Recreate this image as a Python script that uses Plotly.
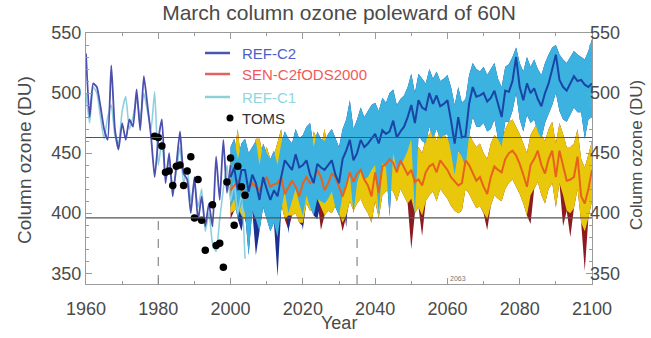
import plotly.graph_objects as go

# ---------------- data ----------------
years_hist = list(range(1960, 2001))
refc2_hist = [533, 480, 508, 505, 489, 470, 461, 523, 470, 453,
              475, 461, 478, 472, 503, 469, 514, 490, 464, 430,
              461, 478, 425, 450, 414, 440, 468, 433, 428, 400,
              430, 394, 414, 389, 408, 389, 447, 411, 461, 417,
              440]

years_c1 = list(range(1960, 2005))
refc1 = [500, 475, 505, 500, 480, 462, 480, 490, 465, 458,
         485, 497, 470, 480, 495, 478, 500, 485, 470, 501,
         440, 460, 430, 445, 420, 435, 455, 425, 438, 410,
         425, 405, 420, 385, 400, 375, 368, 395, 420, 440,
         410, 425, 400, 415, 362]

toms_years = [1979, 1980, 1981, 1982, 1983, 1984, 1985, 1986, 1987, 1988,
              1989, 1990, 1991, 1992, 1993, 1995, 1996, 1997, 1998, 1999,
              2000, 2001, 2002, 2003, 2004]
toms = [464, 463, 456, 434, 435, 423, 439, 440, 423, 435,
        447, 396, 428, 394, 369, 407, 373, 375, 355, 426,
        446, 390, 439, 422, 415]

years_fut = list(range(2000, 2101))
refc2_mean = [430, 438, 419, 436, 436, 418, 432, 425, 411, 430,
              420, 411, 419, 414, 430, 444, 440, 436, 449, 438,
              440, 444, 432, 425, 441, 438, 436, 440, 444, 432,
              425, 445, 452, 461, 444, 450, 461, 455, 458, 462,
              466, 458, 469, 466, 468, 477, 463, 468, 472, 480,
              490, 475, 494, 488, 486, 500, 491, 498, 489, 491,
              494, 477, 458, 480, 463, 464, 491, 505, 497, 498,
              500, 493, 496, 502, 490, 480, 502, 501, 510, 530,
              505, 494, 508, 500, 504, 495, 489, 500, 508, 520,
              532, 511, 505, 502, 508, 514, 510, 511, 507, 505,
              508]
refc2_hi = [455, 462, 445, 458, 462, 450, 455, 460, 440, 458,
            450, 445, 452, 440, 458, 468, 462, 458, 470, 462,
            465, 472, 475, 455, 468, 462, 460, 466, 470, 462,
            455, 470, 478, 494, 470, 478, 488, 480, 485, 490,
            492, 485, 496, 492, 500, 503, 490, 495, 498, 505,
            516, 500, 516, 512, 508, 520, 512, 518, 510, 512,
            515, 505, 490, 505, 492, 495, 515, 525, 520, 518,
            522, 515, 520, 525, 512, 505, 522, 524, 530, 538,
            525, 518, 530, 522, 528, 520, 515, 525, 532, 538,
            540, 532, 528, 525, 530, 535, 532, 530, 528, 535,
            545]
refc2_lo = [405, 412, 395, 408, 400, 365, 402, 395, 385, 405,
            395, 385, 392, 380, 402, 418, 400, 410, 420, 408,
            398, 415, 405, 398, 412, 410, 408, 412, 418, 405,
            398, 415, 425, 432, 400, 425, 435, 428, 430, 436,
            440, 398, 442, 438, 397, 450, 436, 440, 445, 452,
            462, 398, 465, 460, 458, 472, 462, 470, 462, 465,
            466, 450, 432, 452, 447, 438, 465, 480, 472, 472,
            475, 468, 470, 478, 462, 455, 476, 476, 485, 500,
            478, 468, 482, 475, 478, 468, 462, 475, 482, 490,
            500, 485, 478, 476, 482, 488, 484, 484, 462, 478,
            480]
sen_mean = [419, 423, 427, 420, 414, 420, 425, 422, 419, 426,
            430, 422, 424, 425, 430, 416, 422, 427, 422, 414,
            425, 430, 425, 428, 436, 430, 419, 425, 433, 430,
            422, 414, 423, 434, 426, 433, 436, 428, 423, 414,
            434, 417, 439, 441, 445, 442, 434, 444, 438, 432,
            436, 426, 428, 423, 434, 439, 441, 434, 444, 440,
            436, 430, 426, 423, 425, 444, 440, 434, 427, 430,
            422, 416, 430, 439, 436, 434, 445, 450, 452, 448,
            441, 432, 422, 440, 445, 452, 440, 433, 445, 452,
            430, 452, 440, 427, 428, 430, 447, 414, 408, 420,
            436]
sen_hi = [445, 450, 470, 440, 438, 448, 445, 462, 462, 448,
          455, 445, 448, 460, 470, 440, 450, 452, 445, 440,
          452, 458, 450, 468, 462, 455, 470, 452, 460, 456,
          448, 440, 450, 460, 452, 458, 462, 455, 450, 440,
          460, 445, 465, 468, 470, 468, 460, 470, 465, 458,
          462, 452, 455, 450, 462, 466, 470, 460, 472, 466,
          462, 456, 455, 450, 452, 475, 466, 460, 455, 458,
          450, 445, 458, 465, 462, 460, 470, 476, 478, 472,
          466, 458, 450, 465, 470, 476, 465, 460, 470, 476,
          458, 475, 466, 455, 455, 458, 470, 445, 438, 448,
          460]
sen_lo = [400, 402, 405, 398, 395, 398, 402, 400, 398, 405,
          408, 400, 402, 400, 408, 395, 398, 398, 400, 392,
          392, 408, 402, 405, 412, 405, 398, 402, 400, 406,
          400, 392, 398, 410, 402, 408, 412, 405, 400, 392,
          410, 396, 415, 418, 420, 418, 410, 420, 414, 408,
          412, 400, 405, 398, 410, 415, 418, 410, 420, 416,
          412, 406, 402, 400, 402, 420, 416, 410, 404, 406,
          400, 395, 406, 415, 412, 410, 420, 425, 428, 422,
          416, 408, 398, 415, 420, 426, 415, 408, 420, 425,
          405, 425, 415, 402, 400, 404, 420, 392, 385, 396,
          410]

# ensemble extremes (deep downward spikes)
blue_spike_years = [2003, 2007, 2013, 2016, 2020, 2024, 2032]
blue_spike_vals = [385, 365, 347, 383, 386, 395, 388]
red_spike_years = [2000, 2005, 2016, 2020, 2025, 2031, 2050, 2053, 2071, 2083, 2092, 2094, 2098]
red_spike_vals = [395, 386, 386, 389, 386, 385, 370, 381, 386, 391, 389, 380, 352]

ref_levels = [463, 396]
dash_years = [1980, 2035]
x_range = [1960, 2100]
y_range = [341, 550]
x_ticks = list(range(1960, 2101, 20))
y_ticks = [350, 400, 450, 500, 550]
mark_year = 2063


def with_spikes(base, yrs, vals):
    out = list(base)
    for yy, v in zip(yrs, vals):
        i = years_fut.index(yy)
        out[i] = min(out[i], v)
    return out


refc2_outer_lo = with_spikes(refc2_lo, blue_spike_years, blue_spike_vals)
sen_outer_lo = with_spikes(sen_lo, red_spike_years, red_spike_vals)

FONT = "Liberation Sans, Arial, sans-serif"
TXT = "#4a4a4a"
FIG_W, FIG_H = 651, 338

fig = go.Figure()


def band(lo, hi, color):
    fig.add_trace(go.Scatter(x=years_fut, y=lo, mode="lines", line=dict(width=0, color=color),
                             showlegend=False, hoverinfo="skip"))
    fig.add_trace(go.Scatter(x=years_fut, y=hi, mode="lines", line=dict(width=0, color=color),
                             fill="tonexty", fillcolor=color, showlegend=False, hoverinfo="skip"))


band(sen_outer_lo, sen_hi, "#8c1a1e")
band(refc2_outer_lo, refc2_hi, "#1c2f92")
band(sen_lo, sen_hi, "#e9c80c")
band(refc2_lo, refc2_hi, "#3bb2e0")

fig.add_trace(go.Scatter(x=years_c1, y=refc1, mode="lines", name="REF-C1",
                         line=dict(color="#8fd0de", width=1.6, shape="spline", smoothing=0.5),
                         showlegend=False))
fig.add_trace(go.Scatter(x=years_hist, y=refc2_hist, mode="lines", name="REF-C2",
                         line=dict(color="#4b4fae", width=1.8, shape="spline", smoothing=0.5),
                         showlegend=False))
fig.add_trace(go.Scatter(x=years_fut, y=sen_mean, mode="lines", name="SEN-C2fODS2000",
                         line=dict(color="#e8621c", width=2), showlegend=False))
fig.add_trace(go.Scatter(x=years_fut, y=refc2_mean, mode="lines", name="REF-C2 mean",
                         line=dict(color="#1a44a6", width=2), showlegend=False))
fig.add_trace(go.Scatter(x=toms_years, y=toms, mode="markers", name="TOMS",
                         marker=dict(color="black", size=7.5), showlegend=False))
# dummy trace so the right-hand axis is drawn
fig.add_trace(go.Scatter(x=[None], y=[None], yaxis="y2", showlegend=False, hoverinfo="skip"))

shapes = []
for lev in ref_levels:
    shapes.append(dict(type="line", xref="x", yref="y", x0=x_range[0], x1=x_range[1], y0=lev, y1=lev,
                       line=dict(color="#555555", width=1.2), layer="above"))
for yr in dash_years:
    shapes.append(dict(type="line", xref="x", yref="y", x0=yr, x1=yr, y0=y_range[0], y1=ref_levels[1],
                       line=dict(color="#888888", width=1.2, dash="dash"), layer="above"))

# helpers: window pixel -> paper coordinates (plot area spans x 86..592, y 33..284)
W, H, L, B = 506.0, 251.0, 86.0, 284.0


def px(xp):
    return (xp - L) / W


def py(yp):
    return (B - yp) / H


legend_items = [("REF-C2", "#4a55b0", "#4a5fc8", 53),
                ("SEN-C2fODS2000", "#e06262", "#f05a5a", 74),
                ("REF-C1", "#8fcfd8", "#8ed6e0", 97)]
annotations = []
for name, lc, tc, yrow in legend_items:
    shapes.append(dict(type="line", xref="paper", yref="paper", x0=px(205), x1=px(230),
                       y0=py(yrow), y1=py(yrow), line=dict(color=lc, width=2.5)))
    annotations.append(dict(text=name, xref="paper", yref="paper", x=px(240), y=py(yrow),
                            xanchor="left", yanchor="middle", showarrow=False,
                            font=dict(family=FONT, size=15, color=tc)))
shapes.append(dict(type="circle", xref="paper", yref="paper", x0=px(226.5), x1=px(233.5),
                   y0=py(121.5), y1=py(114.5), fillcolor="black", line=dict(width=0)))
annotations.append(dict(text="TOMS", xref="paper", yref="paper", x=px(240), y=py(118),
                        xanchor="left", yanchor="middle", showarrow=False,
                        font=dict(family=FONT, size=15, color="#333333")))
annotations.append(dict(text=str(mark_year), xref="x", yref="y", x=mark_year, y=y_range[0],
                        xanchor="center", yanchor="bottom", showarrow=False,
                        font=dict(family=FONT, size=7, color="#777777")))
# axis titles placed explicitly
annotations.append(dict(text="Year", xref="paper", yref="paper", x=0.5, y=py(323),
                        xanchor="center", yanchor="middle", showarrow=False,
                        font=dict(family=FONT, size=18, color=TXT)))
annotations.append(dict(text="Column ozone (DU)", xref="paper", yref="paper", x=px(24), y=py(160),
                        xanchor="center", yanchor="middle", textangle=-90, showarrow=False,
                        font=dict(family=FONT, size=19, color=TXT)))
annotations.append(dict(text="Column ozone (DU)", xref="paper", yref="paper", x=px(636), y=py(155),
                        xanchor="center", yanchor="middle", textangle=-90, showarrow=False,
                        font=dict(family=FONT, size=17, color=TXT)))

axis_common = dict(showgrid=False, zeroline=False, showline=True, linecolor="#9a9a9a",
                   linewidth=1, ticks="inside", tickcolor="#9a9a9a", ticklen=6,
                   tickfont=dict(family=FONT, size=18, color=TXT))

fig.update_layout(
    width=FIG_W, height=FIG_H,
    margin=dict(l=86, r=FIG_W - 86 - 506, t=33, b=FIG_H - 33 - 251, autoexpand=False),
    paper_bgcolor="white", plot_bgcolor="white",
    title=dict(text="March column ozone poleward of 60N", x=339 / FIG_W, xanchor="center",
               y=1 - 13 / FIG_H, yanchor="middle", yref="container",
               font=dict(family=FONT, size=21, color=TXT)),
    xaxis=dict(range=x_range, tickvals=x_ticks, mirror="ticks",
               minor=dict(dtick=10, ticks="inside", ticklen=3, tickcolor="#9a9a9a"),
               ticklabelstandoff=8, **axis_common),
    yaxis=dict(range=y_range, tickvals=y_ticks, mirror="ticks",
               minor=dict(dtick=10, ticks="inside", ticklen=3, tickcolor="#9a9a9a"),
               **axis_common),
    yaxis2=dict(range=y_range, tickvals=y_ticks, overlaying="y", side="right", showgrid=False,
                zeroline=False, showline=False, ticks="", ticklabelstandoff=-3,
                tickfont=dict(family=FONT, size=18, color=TXT)),
    shapes=shapes, annotations=annotations, showlegend=False,
)

# remove the browser's default 8px page margin so the figure sits at the window origin
fig.write_html("out.html", config={"displayModeBar": False},
               post_script="document.body.style.margin='0px';")
